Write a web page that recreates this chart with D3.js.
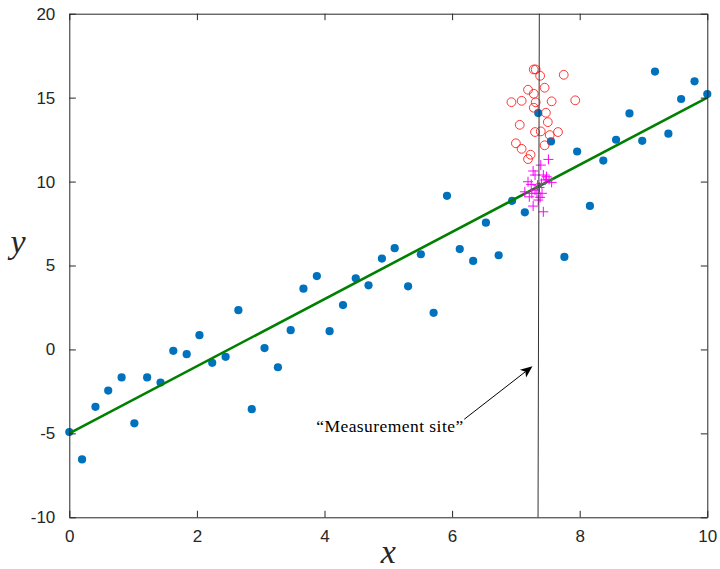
<!DOCTYPE html>
<html>
<head>
<meta charset="utf-8">
<script src="https://cdn.jsdelivr.net/npm/d3@7"></script>
<style>
  html, body { margin: 0; padding: 0; background: #fff; }
  svg { display: block; }
</style>
</head>
<body>
<svg id="chart" width="720" height="569"></svg>
<script>
// Observations along x (evenly spaced over [0, 10])
const obsX = [0, 0.20, 0.41, 0.61, 0.82, 1.02, 1.22, 1.43, 1.63, 1.84,
              2.04, 2.24, 2.45, 2.65, 2.86, 3.06, 3.27, 3.47, 3.67, 3.88,
              4.08, 4.29, 4.49, 4.69, 4.90, 5.10, 5.31, 5.51, 5.71, 5.92,
              6.12, 6.33, 6.53, 6.73, 6.94, 7.14, 7.35, 7.55, 7.76, 7.96,
              8.16, 8.37, 8.57, 8.78, 8.98, 9.18, 9.39, 9.59, 9.80, 10];
const obsY = [-4.92, -6.55, -3.42, -2.45, -1.67, -4.40, -1.67, -1.97, -0.08, -0.28,
               0.85, -0.80, -0.44,  2.34, -3.56,  0.08, -1.06,  1.15,  3.62,  4.37,
               1.09,  2.64,  4.24,  3.82,  5.41,  6.03,  3.76,  5.67,  2.18,  9.15,
               5.98,  5.27,  7.55,  5.61,  8.85,  8.17, 14.08, 12.39,  5.51, 11.79,
               8.55, 11.25, 12.49, 14.06, 12.43, 16.55, 12.85, 14.92, 15.97, 15.21];

// Fitted regression line endpoints
const fitX = [0, 10];
const fitY = [-5, 15];

// Repeated measurements at the site (open red circles)
const siteAX = [7.28, 7.31, 7.38, 7.75, 7.19, 7.28, 7.45, 6.93, 7.09, 7.31,
                7.28, 7.56, 7.93, 7.47, 7.50, 7.06, 7.30, 7.39, 7.53, 7.66,
                7.00, 7.09, 7.45, 7.23, 7.19];
const siteAY = [16.68, 16.68, 16.30, 16.36, 15.47, 15.23, 15.59, 14.73, 14.81, 14.72,
                14.40, 14.78, 14.84, 14.10, 13.54, 13.38, 12.95, 12.99, 12.77, 12.95,
                12.28, 11.95, 12.16, 11.60, 11.34];

// Predictions at the site (magenta plus markers)
const siteBX = [7.51, 7.39, 7.27, 7.30, 7.43, 7.48, 7.52, 7.46, 7.56, 7.19,
                7.24, 7.34, 7.37, 7.30, 7.14, 7.25, 7.41, 7.21, 7.38, 7.27,
                7.43, 7.35, 7.40, 7.33];
const siteBY = [11.32, 10.98, 10.63, 10.39, 10.39, 10.29, 10.13, 10.09, 9.95, 9.99,
                 9.83,  9.79,  9.65,  9.49,  9.39,  9.30,  9.30,  9.09, 9.06, 8.54,
                 8.20,  8.90,  9.89,  9.30];

// Vertical marker through the measurement site
const siteLineX = [7.367, 7.347];
const siteLineY = [20, -10];

// Annotation arrow (tail, head) and its label
const arrowX = [6.19, 7.26];
const arrowY = [-4.16, -1.0];
const annotationText = "\u201CMeasurement site\u201D";

const xTicks = [0, 2, 4, 6, 8, 10];
const yTicks = [-10, -5, 0, 5, 10, 15, 20];

const svg = d3.select("#chart");
const plot = { left: 69.3, right: 707.3, top: 13.7, bottom: 517.3 };

const x = d3.scaleLinear().domain([0, 10]).range([plot.left, plot.right]);
const y = d3.scaleLinear().domain([-10, 20]).range([plot.bottom, plot.top]);

const axisColor = "#262626";

// Blue observations
svg.append("g").selectAll("circle")
  .data(obsX.map((v, i) => [v, obsY[i]]))
  .join("circle")
  .attr("cx", d => x(d[0]))
  .attr("cy", d => y(d[1]))
  .attr("r", 4.1)
  .attr("fill", "#0072BD");

// Red open circles
svg.append("g").selectAll("circle")
  .data(siteAX.map((v, i) => [v, siteAY[i]]))
  .join("circle")
  .attr("cx", d => x(d[0]))
  .attr("cy", d => y(d[1]))
  .attr("r", 4.4)
  .attr("fill", "none")
  .attr("stroke", "#ff2020")
  .attr("stroke-width", 0.9);

// Fitted line
svg.append("line")
  .attr("x1", x(fitX[0])).attr("y1", y(fitY[0]))
  .attr("x2", x(fitX[1])).attr("y2", y(fitY[1]))
  .attr("stroke", "#008000")
  .attr("stroke-width", 2.6);

// Magenta plus markers
const plusSize = 5;
svg.append("g").selectAll("path")
  .data(siteBX.map((v, i) => [v, siteBY[i]]))
  .join("path")
  .attr("d", d => {
    const cx = x(d[0]), cy = y(d[1]);
    return `M${cx - plusSize},${cy}H${cx + plusSize}M${cx},${cy - plusSize}V${cy + plusSize}`;
  })
  .attr("stroke", "#ff00ff")
  .attr("stroke-width", 1)
  .attr("fill", "none");

// Vertical site line
svg.append("line")
  .attr("x1", x(siteLineX[0])).attr("y1", y(siteLineY[0]))
  .attr("x2", x(siteLineX[1])).attr("y2", y(siteLineY[1]))
  .attr("stroke", "#333")
  .attr("stroke-width", 1);

// Annotation arrow
const ax0 = x(arrowX[0]), ay0 = y(arrowY[0]);
const ax1 = x(arrowX[1]), ay1 = y(arrowY[1]);
const ang = Math.atan2(ay1 - ay0, ax1 - ax0);
const headLen = 12, headW = 5, notch = 9;
const ux = Math.cos(ang), uy = Math.sin(ang);
const px = -uy, py = ux;
svg.append("line")
  .attr("x1", ax0).attr("y1", ay0)
  .attr("x2", ax1 - ux * notch).attr("y2", ay1 - uy * notch)
  .attr("stroke", "#000").attr("stroke-width", 1);
svg.append("path")
  .attr("d", `M${ax1},${ay1}` +
             `L${ax1 - ux * headLen + px * headW},${ay1 - uy * headLen + py * headW}` +
             `L${ax1 - ux * notch},${ay1 - uy * notch}` +
             `L${ax1 - ux * headLen - px * headW},${ay1 - uy * headLen - py * headW}Z`)
  .attr("fill", "#000");

svg.append("text")
  .attr("x", ax0 - 1)
  .attr("y", ay0 + 13)
  .attr("text-anchor", "end")
  .attr("font-family", "'Liberation Serif', 'DejaVu Serif', serif")
  .attr("font-size", 17.5)
  .attr("textLength", 147)
  .attr("lengthAdjust", "spacing")
  .attr("fill", "#000")
  .text(annotationText);

// Axes box with inward ticks on all four sides
const tickLen = 6.5;
const fmt = d => String(d);
const bottomAxis = d3.axisBottom(x).tickValues(xTicks).tickSizeInner(-tickLen).tickSizeOuter(0).tickPadding(13).tickFormat(fmt);
const topAxis = d3.axisTop(x).tickValues(xTicks).tickSizeInner(-tickLen).tickSizeOuter(0).tickFormat("");
const leftAxis = d3.axisLeft(y).tickValues(yTicks).tickSizeInner(-tickLen).tickSizeOuter(0).tickPadding(14).tickFormat(fmt);
const rightAxis = d3.axisRight(y).tickValues(yTicks).tickSizeInner(-tickLen).tickSizeOuter(0).tickFormat("");

function styleAxis(g) {
  g.select(".domain").attr("stroke", axisColor).attr("stroke-width", 1);
  g.selectAll(".tick line").attr("stroke", axisColor).attr("stroke-width", 1);
  g.selectAll(".tick text").attr("fill", axisColor)
    .style("font-family", "'Liberation Sans', Arial, Helvetica, sans-serif").style("font-size", "17px");
}

svg.append("g").attr("transform", `translate(0,${plot.bottom})`).call(bottomAxis).call(styleAxis);
svg.append("g").attr("transform", `translate(0,${plot.top})`).call(topAxis).call(styleAxis);
svg.append("g").attr("transform", `translate(${plot.left},0)`).call(leftAxis).call(styleAxis);
svg.append("g").attr("transform", `translate(${plot.right},0)`).call(rightAxis).call(styleAxis);

// Axis labels
svg.append("text")
  .attr("x", (plot.left + plot.right) / 2)
  .attr("y", 563)
  .attr("text-anchor", "middle")
  .attr("font-family", "'Liberation Serif', 'DejaVu Serif', serif")
  .attr("font-style", "italic")
  .attr("font-size", 34)
  .attr("fill", "#262626")
  .text("x");

svg.append("text")
  .attr("x", 18)
  .attr("y", 253)
  .attr("text-anchor", "middle")
  .attr("font-family", "'Liberation Serif', 'DejaVu Serif', serif")
  .attr("font-style", "italic")
  .attr("font-size", 34)
  .attr("fill", "#262626")
  .text("y");
</script>
</body>
</html>
